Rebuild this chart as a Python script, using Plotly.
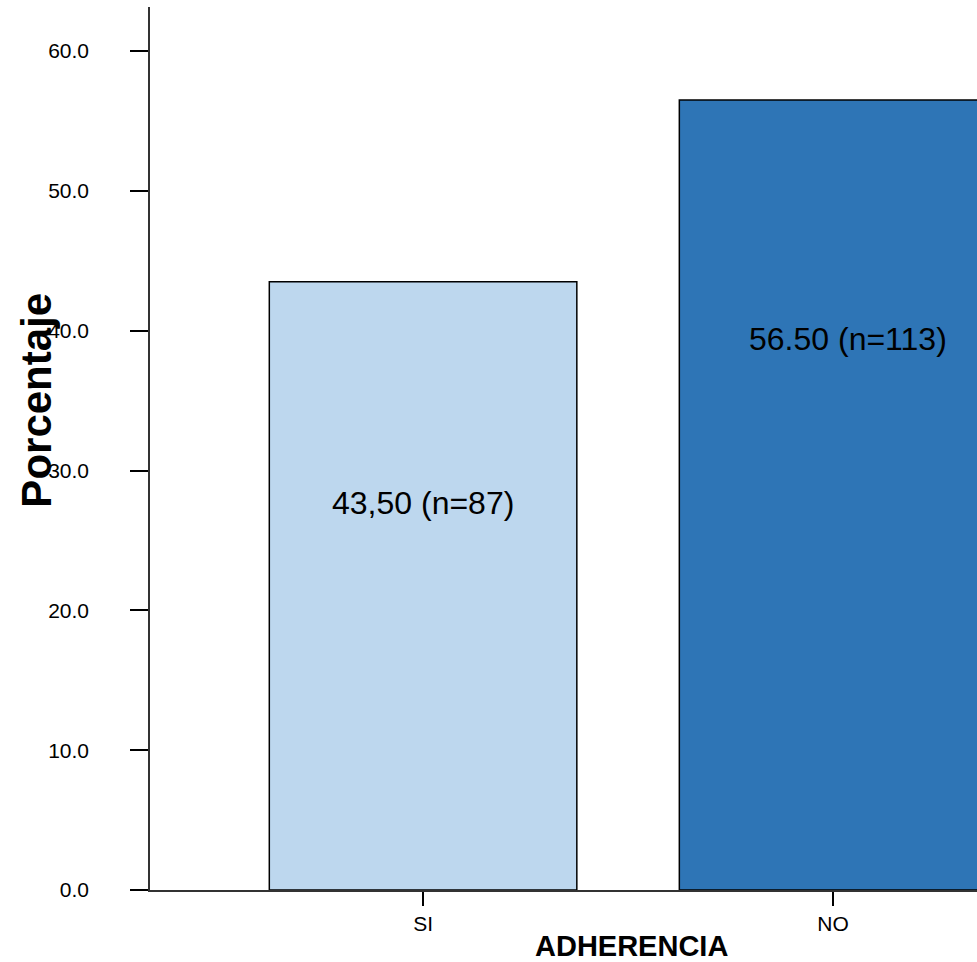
import plotly.graph_objects as go

categories = ["SI", "NO"]
percentages = [43.5, 56.5]
bar_labels = ["43,50 (n=87)", "56.50 (n=113)"]
bar_colors = ["#BDD7EE", "#2E75B6"]
y_ticks = [0, 10, 20, 30, 40, 50, 60]

FONT = "Arial, Liberation Sans, sans-serif"

fig = go.Figure()
fig.add_trace(go.Bar(
    x=categories, y=percentages, width=0.75,
    marker=dict(color=bar_colors, line=dict(color="#000000", width=1.5)),
    hoverinfo="skip", showlegend=False,
))

label_y = [27.7, 39.4]
label_shift = [0, 15]
for c, lab, ly, xs in zip(categories, bar_labels, label_y, label_shift):
    fig.add_annotation(x=c, y=ly, text=lab, showarrow=False, xshift=xs,
                       font=dict(family=FONT, size=32, color="#000000"))

fig.add_annotation(xref="paper", yref="paper", x=-0.137, y=0.555, text="<b>Porcentaje</b>",
                   textangle=-90, showarrow=False, xanchor="center", yanchor="middle",
                   font=dict(family=FONT, size=42, color="#000000"))
fig.add_annotation(xref="paper", yref="paper", x=(631 - 150) / 827, y=-0.0635,
                   text="<b>ADHERENCIA</b>", showarrow=False, xanchor="center", yanchor="middle",
                   font=dict(family=FONT, size=29, color="#000000"))

fig.update_layout(
    width=977, height=962,
    margin=dict(l=150, r=0, t=7, b=72),
    paper_bgcolor="white", plot_bgcolor="white",
    xaxis=dict(
        type="category", range=[-0.666, 1.351],
        showline=True, linecolor="#333333", linewidth=1.5,
        ticks="outside", ticklen=14, tickwidth=2, tickcolor="#000000",
        tickfont=dict(family=FONT, size=21, color="#000000"),
        showgrid=False, zeroline=False,
    ),
    yaxis=dict(
        range=[0, 63.15], tickvals=y_ticks, tickformat=".1f",
        showline=True, linecolor="#333333", linewidth=1.5,
        ticks="outside", ticklen=18, tickwidth=2, tickcolor="#000000",
        ticklabelstandoff=37,
        tickfont=dict(family=FONT, size=21, color="#000000"),
        showgrid=False, zeroline=False,
    ),
)

fig.write_html("out.html", config={"displayModeBar": False},
               post_script="document.body.style.margin='0';")
